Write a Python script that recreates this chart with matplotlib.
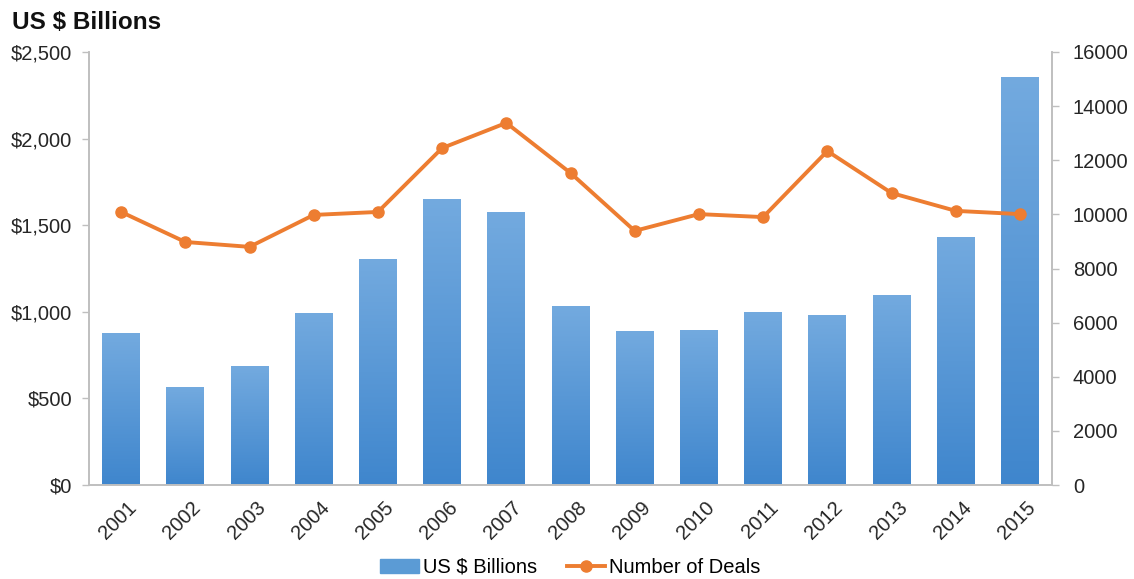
import numpy as np
import matplotlib.pyplot as plt
from matplotlib.colors import LinearSegmentedColormap
from matplotlib.lines import Line2D
from matplotlib.patches import Patch
from matplotlib.transforms import ScaledTranslation

plt.rcParams['font.family'] = ['Liberation Sans', 'DejaVu Sans']

# data
years = ['2001', '2002', '2003', '2004', '2005', '2006', '2007', '2008',
         '2009', '2010', '2011', '2012', '2013', '2014', '2015']
value_bn = [877, 566, 687, 993, 1305, 1651, 1576, 1033,
            889, 895, 999, 981, 1097, 1432, 2356]
deals = [10090, 8980, 8800, 9980, 10090, 12450, 13380, 11530,
         9390, 10010, 9900, 12340, 10790, 10130, 10010]

bar_top = '#73aadf'
bar_bot = '#3f86cd'
orange = '#ed7d31'
grey = '#bfbfbf'

fig = plt.figure(figsize=(11.34, 5.79), dpi=100)
ax = fig.add_axes([0.0785, 0.1623, 0.8492, 0.7479])
ax2 = ax.twinx()

x = np.arange(len(years))
bars = ax.bar(x, value_bn, width=0.59, color=bar_bot, zorder=1)

# vertical gradient in each bar
cmap = LinearSegmentedColormap.from_list('blu', [bar_bot, bar_top])
grad = np.linspace(0, 1, 256).reshape(-1, 1)
for b in bars:
    bx, by = b.get_x(), b.get_y()
    w, h = b.get_width(), b.get_height()
    im = ax.imshow(grad, cmap=cmap, aspect='auto', origin='lower',
                   extent=[bx, bx + w, by, by + h], zorder=2)
    im.set_clip_path(b)

ax.set_xlim(-0.5, len(years) - 0.5)
ax.set_ylim(0, 2500)
ax.set_yticks([0, 500, 1000, 1500, 2000, 2500])
ax.set_yticklabels(['$0', '$500', '$1,000', '$1,500', '$2,000', '$2,500'])
ax.set_xticks(x)
ax.set_xticklabels(years, rotation=45, ha='right', rotation_mode='anchor')

ax2.plot(x, deals, color=orange, lw=2.8, marker='o', ms=8, zorder=5)
ax2.set_ylim(0, 16000)
ax2.set_yticks(range(0, 16001, 2000))

for a in (ax, ax2):
    a.spines['top'].set_visible(False)
    for s in ('left', 'right', 'bottom'):
        a.spines[s].set_color(grey)
        a.spines[s].set_linewidth(1.2)
    a.tick_params(colors=grey, labelcolor='#262626', labelsize=14.5,
                  length=5, width=1)
ax.tick_params(axis='y', pad=7)
ax2.tick_params(axis='y', pad=10)
ax.tick_params(axis='x', length=0, pad=9)
# nudge year labels right so their ends sit on the bar centres
for lab in ax.get_xticklabels():
    lab.set_transform(lab.get_transform() + ScaledTranslation(0.06, 0, fig.dpi_scale_trans))
ax.set_zorder(ax2.get_zorder() - 1)
ax2.patch.set_visible(False)

fig.text(0.011, 0.962, 'US $ Billions', fontsize=17.5, fontweight='bold',
         color='#111111', va='center')

handles = [Patch(color='#5b9bd5'),
           Line2D([], [], color=orange, lw=2.8, marker='o', ms=8)]
fig.legend(handles, ['US $ Billions', 'Number of Deals'],
           loc='center', bbox_to_anchor=(0.503, 0.02), ncol=2, frameon=False,
           fontsize=14.5, handlelength=1.9, handletextpad=0.2, columnspacing=1.5)

fig.savefig('out.png', dpi=100)
